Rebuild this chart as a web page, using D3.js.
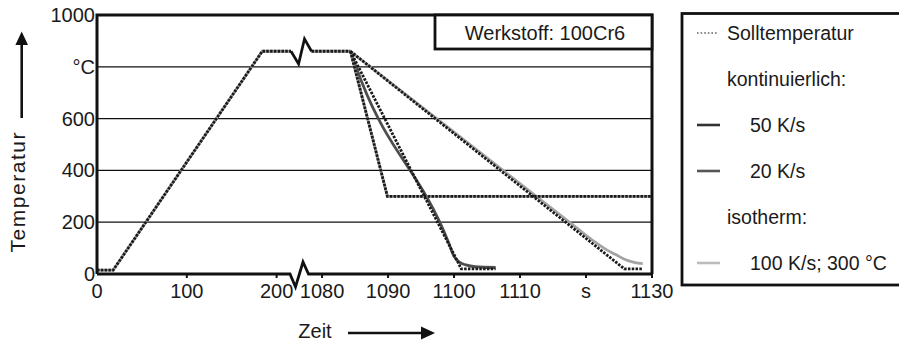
<!DOCTYPE html>
<html>
<head>
<meta charset="utf-8">
<script src="https://cdn.jsdelivr.net/npm/d3@7"></script>
<style>
  body { margin: 0; background: #fff; }
  svg { display: block; }
  text { font-family: "Liberation Sans", Arial, sans-serif; fill: #1a1a1a; }
</style>
</head>
<body>
<svg id="chart" width="899" height="342"></svg>
<script>
// Time axis is broken between the end of the heating ramp and the quench
const breakStart = 216;
const breakEnd = 1078.4;

const xTickValues = [0, 100, 200, 1080, 1090, 1100, 1110, 1120, 1130];
const xTickLabels = ["0", "100", "200", "1080", "1090", "1100", "1110", "s", "1130"];
const yTickValues = [0, 200, 400, 600, 800, 1000];
const yTickLabels = ["0", "200", "400", "600", "°C", "1000"];
const gridValues = [200, 400, 600, 800];

// Heating ramp and hold before the break (shared by every run)
const heatTime = [0, 18, 184, breakStart];
const heatTemp = [15, 15, 860, 860];
// Hold after the break
const holdTime = [breakEnd, 1084.3];
const holdTemp = [860, 860];

// Set-point cooling branches (Solltemperatur)
const setIsoTime = [1084.3, 1089.9, 1130];
const setIsoTemp = [860, 300, 300];
const setFastTime = [1084.3, 1101.1, 1106.3];
const setFastTemp = [860, 20, 20];
const setSlowTime = [1084.3, 1125.8, 1128.6];
const setSlowTemp = [860, 20, 20];

// Measured cooling branches
const isoTime = [1084.3, 1089.9, 1130];
const isoTemp = [860, 300, 300];
const fastTime = [1084.3, 1085.5, 1086.0, 1099.2, 1100.0, 1100.7, 1101.8, 1103.2, 1106.3];
const fastTemp = [860, 775, 742, 120, 68, 48, 35, 28, 25];
const slowTime = [1084.3, 1118, 1121, 1123, 1124.5, 1126, 1127.3, 1128.6];
const slowTemp = [860, 190, 130, 95, 75, 55, 45, 40];

// Legend entries
const legendLabels = ["Solltemperatur", "kontinuierlich:", "50 K/s", "20 K/s", "isotherm:", "100 K/s; 300 °C"];
const legendKinds = ["dot", "head", "line", "line", "head", "line"];
const legendColors = ["#8a8a8a", null, "#333333", "#555555", null, "#bbbbbb"];

const svg = d3.select("#chart");

const plotLeft = 97, plotRight = 652, plotTop = 15, plotBottom = 274;
const gapLeft = 291, gapRight = 311.5;

const x = d3.scaleLinear()
  .domain([0, breakStart, breakEnd, 1130])
  .range([plotLeft, gapLeft, gapRight, plotRight]);
const y = d3.scaleLinear().domain([0, 1000]).range([plotBottom, plotTop]);

const zip = (t, v) => t.map((d, i) => [d, v[i]]);

// grid lines
svg.append("g").selectAll("line").data(gridValues).join("line")
  .attr("x1", plotLeft).attr("x2", plotRight)
  .attr("y1", d => y(d)).attr("y2", d => y(d))
  .attr("stroke", "#111").attr("stroke-width", 1.2);

const lineLin = d3.line().x(d => x(d[0])).y(d => y(d[1]));
const lineSmooth = d3.line().x(d => x(d[0])).y(d => y(d[1])).curve(d3.curveMonotoneX);

const plot = svg.append("g");

// measured runs
const heatPts = zip(heatTime, heatTemp);
const holdPts = zip(holdTime, holdTemp);
const measured = (pts, c, gen) => plot.append("path").attr("d", gen(pts))
  .attr("fill", "none").attr("stroke", c).attr("stroke-width", 2.8);
measured(zip(slowTime, slowTemp), "#a3a3a3", lineSmooth);
measured(zip(fastTime, fastTemp), "#4e4e4e", lineSmooth);
measured(zip(isoTime, isoTemp), "#999", lineLin);
measured(heatPts, "#999", lineLin);
measured(holdPts, "#999", lineLin);

// set-point curves, dotted
const dotted = (pts) => plot.append("path").attr("d", lineLin(pts))
  .attr("fill", "none").attr("stroke", "#1a1a1a").attr("stroke-width", 2.8)
  .attr("stroke-dasharray", "2.5,1.3");
dotted(heatPts);
dotted(holdPts);
dotted(zip(setSlowTime, setSlowTemp));
dotted(zip(setFastTime, setFastTemp));
dotted(zip(setIsoTime, setIsoTemp));

// break symbol on the hold line
const yh = y(860);
svg.append("path")
  .attr("d", `M${x(breakStart)},${yh} L${gapLeft + 7.6},${yh + 12.6} L${gapLeft + 13.5},${yh - 12.4} L${x(breakEnd)},${yh}`)
  .attr("fill", "none").attr("stroke", "#111").attr("stroke-width", 2.7).attr("stroke-linejoin", "miter");

// frame
const frame = svg.append("g").attr("stroke", "#111").attr("stroke-width", 3).attr("fill", "none");
frame.append("path").attr("d", `M${plotLeft},${plotBottom} L${plotLeft},${plotTop} L${plotRight},${plotTop} L${plotRight},${plotBottom}`);
frame.append("path")
  .attr("d", `M${plotLeft},${plotBottom} L${gapLeft - 1},${plotBottom} L${gapLeft + 4.5},${plotBottom + 13} L${gapLeft + 12},${plotBottom - 12} L${gapRight - 3},${plotBottom} L${plotRight},${plotBottom}`)
  .attr("stroke-width", 2.8);

// x ticks
svg.append("g").selectAll("line").data(xTickValues.filter(d => d !== 0)).join("line")
  .attr("x1", d => x(d)).attr("x2", d => x(d))
  .attr("y1", plotBottom).attr("y2", plotBottom + 4)
  .attr("stroke", "#111").attr("stroke-width", 2);
svg.append("g").selectAll("text").data(xTickValues).join("text")
  .attr("x", d => x(d)).attr("y", 298)
  .attr("text-anchor", "middle").attr("font-size", 20)
  .text((d, i) => xTickLabels[i]);

// y labels
svg.append("g").selectAll("text").data(yTickValues).join("text")
  .attr("x", 95).attr("y", d => y(d) + 7)
  .attr("text-anchor", "end").attr("font-size", 20)
  .text((d, i) => yTickLabels[i]);

// material box
svg.append("rect").attr("x", 435).attr("y", plotTop).attr("width", plotRight - 435).attr("height", 34)
  .attr("fill", "#fff").attr("stroke", "#111").attr("stroke-width", 2.8);
svg.append("text").attr("x", 545).attr("y", 40).attr("text-anchor", "middle")
  .attr("font-size", 20).text("Werkstoff: 100Cr6");

// axis titles and arrows
svg.append("text").attr("transform", "translate(24.5,192.5) rotate(-90)")
  .attr("text-anchor", "middle").attr("font-size", 21)
  .attr("textLength", 120).attr("lengthAdjust", "spacing").text("Temperatur");
svg.append("line").attr("x1", 21.7).attr("x2", 21.7).attr("y1", 118).attr("y2", 42)
  .attr("stroke", "#111").attr("stroke-width", 2.6);
svg.append("path").attr("d", "M21.7,31.5 L28,45 L15.4,45 Z").attr("fill", "#111");

svg.append("text").attr("x", 315).attr("y", 338).attr("text-anchor", "middle")
  .attr("font-size", 20).text("Zeit");
svg.append("line").attr("x1", 348).attr("x2", 424).attr("y1", 333).attr("y2", 333)
  .attr("stroke", "#111").attr("stroke-width", 2.6);
svg.append("path").attr("d", "M435,333 L421,326.5 L421,339.5 Z").attr("fill", "#111");

// legend
const lg = svg.append("g");
lg.append("rect").attr("x", 682).attr("y", 13.5).attr("width", 240).attr("height", 271.5)
  .attr("fill", "#fff").attr("stroke", "#111").attr("stroke-width", 2.8);
const rowY = d3.scalePoint().domain(d3.range(legendLabels.length)).range([33, 263]);
legendLabels.forEach((label, i) => {
  const cy = rowY(i);
  const kind = legendKinds[i];
  if (kind === "dot") {
    lg.append("line").attr("x1", 697).attr("x2", 718).attr("y1", cy).attr("y2", cy)
      .attr("stroke", legendColors[i]).attr("stroke-width", 1.8).attr("stroke-dasharray", "1.6,2");
  } else if (kind === "line") {
    lg.append("line").attr("x1", 697).attr("x2", 720).attr("y1", cy).attr("y2", cy)
      .attr("stroke", legendColors[i]).attr("stroke-width", 2.6);
  }
  lg.append("text").attr("x", kind === "line" ? 750 : 727).attr("y", cy + 7)
    .attr("font-size", 19.5).text(label);
});
</script>
</body>
</html>
